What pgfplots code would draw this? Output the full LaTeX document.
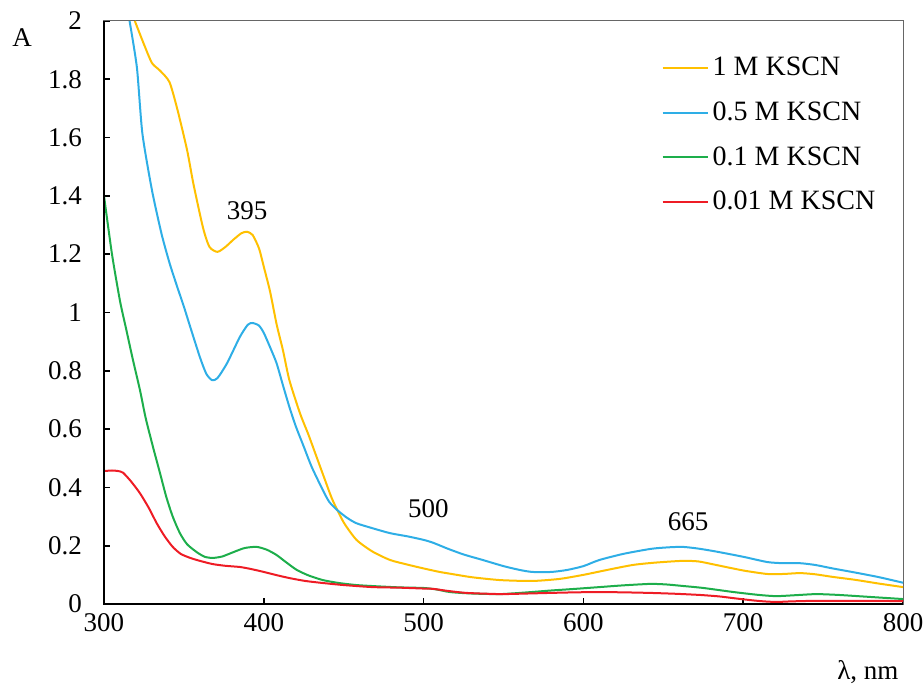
\documentclass[border=0pt]{standalone}
\usepackage{pgfplots}
\pgfplotsset{compat=1.18}
\usepackage{fontspec}
\setmainfont{Liberation Serif}
\definecolor{cyel}{HTML}{FFC000}
\definecolor{cblu}{HTML}{2EAEE6}
\definecolor{cgrn}{HTML}{1DAE4B}
\definecolor{cred}{HTML}{EE1C25}
\begin{document}
\begin{tikzpicture}
\path[use as bounding box] (-52pt,-43pt) rectangle (410pt,302pt);
\begin{axis}[
  scale only axis, width=399.5pt, height=291.5pt,
  xmin=300, xmax=800, ymin=0, ymax=2,
  xtick={300,400,500,600,700,800},
  ytick={0,0.2,0.4,0.6,0.8,1,1.2,1.4,1.6,1.8,2},
  tick align=inside, xtick pos=bottom, ytick pos=left,
  major tick length=3pt,
  axis line style={draw=black!60, line width=0.5pt},
  tick style={black, line width=0.8pt},
  tick label style={font=\fontsize{13.5}{15}\selectfont},
  yticklabel style={xshift=-7.5pt},
  xticklabel style={yshift=-1pt},
  /pgf/number format/assume math mode=true,
  clip mode=individual,
  legend style={draw=none, fill=none, at={(0.69,0.952)}, anchor=north west,
    font=\fontsize{14}{16}\selectfont, row sep=7.5pt},
  legend cell align=left,
  legend image code/.code={\draw[#1] (0pt,0pt) -- (22.5pt,0pt);},
  every axis plot/.append style={line width=1pt, smooth, tension=0.4},
]
\addplot[cyel] table {
319.3 2.00
325 1.92
330 1.856
335 1.83
341 1.79
346 1.695
352 1.557
356 1.44
362 1.29
366 1.225
371 1.208
376 1.225
381 1.25
386 1.272
389.5 1.277
393 1.266
397 1.22
400 1.157
404 1.07
408 0.96
412 0.87
416 0.768
422.6 0.655
428 0.58
433 0.505
438 0.43
443 0.357
450 0.28
458 0.22
468 0.18
479 0.151
490 0.135
500 0.122
510 0.11
516.5 0.104
530 0.092
548 0.082
568 0.079
585 0.086
600 0.1
615 0.117
631 0.134
645 0.142
662 0.148
672 0.146
683 0.134
700 0.115
715 0.103
725 0.103
735.5 0.106
745 0.102
756 0.093
770 0.083
785 0.07
800 0.058
};
\addlegendentry{1 M KSCN}
\addplot[cblu] table {
316 2.0
320.6 1.84
324 1.615
330 1.42
336 1.27
341 1.17
345.7 1.09
350 1.02
354 0.95
360 0.847
364 0.79
367.6 0.768
371 0.775
377 0.826
385 0.916
390 0.958
393 0.964
397 0.955
400 0.93
404 0.88
408 0.826
412 0.75
416 0.676
420 0.61
425 0.54
430 0.47
437 0.39
441 0.35
446 0.322
452 0.296
458 0.277
468 0.26
479 0.243
490 0.232
500 0.22
506 0.21
515 0.19
525 0.17
537 0.151
550 0.13
560 0.117
568 0.11
580 0.11
590 0.117
600 0.13
610 0.151
625 0.172
642 0.189
652 0.194
662 0.196
672 0.19
683 0.18
700 0.162
715 0.144
725 0.14
735.5 0.14
745 0.134
756 0.122
770 0.108
785 0.092
800 0.073
};
\addlegendentry{0.5 M KSCN}
\addplot[cgrn] table {
300 1.40
305 1.2
310 1.04
314 0.94
318 0.84
322.5 0.734
326 0.64
330.6 0.54
335 0.45
339 0.367
343 0.3
347.5 0.243
352 0.205
358 0.178
363 0.162
368 0.158
374 0.163
381 0.178
388 0.192
395.5 0.196
402 0.186
408 0.168
414 0.143
420.6 0.117
428 0.098
437 0.082
447 0.072
458 0.065
470 0.061
485 0.057
500 0.055
508 0.05
516.5 0.041
530 0.036
548 0.034
565 0.04
579 0.046
595 0.052
610 0.058
625 0.064
642 0.069
652 0.067
662 0.062
675 0.055
694 0.041
710 0.031
721 0.027
735 0.031
746 0.034
760 0.031
780 0.024
800 0.017
};
\addlegendentry{0.1 M KSCN}
\addplot[cred] table {
300 0.456
305 0.458
309 0.456
312 0.45
317 0.42
322.5 0.38
328 0.33
333 0.277
338 0.232
343 0.196
348 0.172
354 0.158
360 0.148
368 0.137
376 0.131
385 0.127
392 0.12
400 0.11
408 0.099
416 0.089
426 0.079
437 0.072
450 0.065
468 0.058
485 0.056
500 0.053
506 0.052
515 0.045
527 0.038
548 0.034
565 0.036
579 0.038
595 0.04
610 0.041
625 0.04
642 0.038
658 0.035
673 0.031
685 0.026
694 0.02
705 0.013
713 0.009
721 0.007
730 0.009
746 0.011
770 0.011
800 0.01
};
\addlegendentry{0.01 M KSCN}
\draw[black, line width=1.4pt] (rel axis cs:0,1) -- (rel axis cs:0,0) -- (rel axis cs:1,0);
\node[font=\fontsize{13.5}{16}\selectfont] at (axis cs:389.5,1.35) {395};
\node[font=\fontsize{13.5}{16}\selectfont] at (axis cs:503,0.326) {500};
\node[font=\fontsize{13.5}{16}\selectfont] at (axis cs:665.5,0.281) {665};
\node[font=\fontsize{13.5}{16}\selectfont] at (rel axis cs:-0.1026,0.971) {A};
\node[font=\fontsize{13.5}{16}\selectfont] at (rel axis cs:0.956,-0.117) {λ, nm};
\end{axis}
\end{tikzpicture}
\end{document}
